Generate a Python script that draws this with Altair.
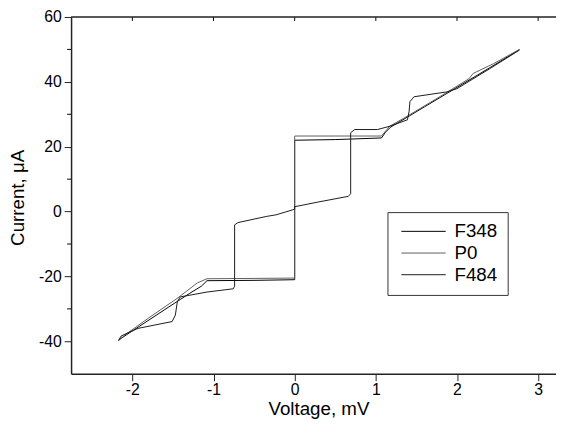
import altair as alt
import pandas as pd

series_names = ["F348", "P0", "F484"]
series_colors = ["#000000", "#5e5e5e", "#1a1a1a"]

f348_v = [-2.17, -2.0, -1.6, -1.3, -1.15, -1.08, -0.5, 0.0, 0.0, 0.0, 0.5, 1.07, 1.12, 1.18, 1.6, 2.0, 2.4, 2.77]
f348_i = [-39.6, -36.8, -30.2, -25.3, -23.0, -21.3, -21.2, -21.0, 0.0, 22.0, 22.2, 22.7, 24.5, 26.0, 32.3, 38.3, 44.3, 49.9]

p0_v = [-2.17, -2.1, -1.8, -1.45, -1.2, -1.08, -0.5, 0.0, 0.0, 0.5, 1.07, 1.17, 1.4, 1.8, 2.15, 2.2, 2.45, 2.77]
p0_i = [-39.8, -38.2, -32.8, -26.8, -22.0, -20.7, -20.6, -20.5, 23.3, 23.3, 23.3, 26.3, 29.6, 35.6, 41.0, 42.6, 45.6, 50.0]

f484_v = [-2.17, -2.14, -2.05, -1.93, -1.61, -1.51, -1.47, -1.446, -1.41, -1.08, -0.757, -0.74, -0.74, -0.70,
          -0.35, -0.23, -0.03, 0.0, 0.0, 0.3, 0.66, 0.69, 0.69, 0.74, 1.02, 1.17, 1.39, 1.41, 1.42, 1.47,
          1.875, 2.0, 2.4, 2.77]
f484_i = [-39.8, -38.4, -37.3, -36.0, -34.4, -33.9, -31.9, -27.8, -26.3, -24.8, -23.8, -23.0, -4.1, -3.4,
          -1.5, -1.0, 0.5, 0.8, 1.5, 3.0, 4.7, 5.5, 24.3, 25.3, 25.3, 26.3, 28.3, 30.9, 33.9, 35.4,
          36.9, 37.9, 44.0, 49.8]

x_ticks = [-2, -1, 0, 1, 2, 3]
y_ticks = [-40, -20, 0, 20, 40, 60]
y_minor = [-30, -10, 10, 30, 50]

rows = []
for name, vs, cs in [("F348", f348_v, f348_i), ("P0", p0_v, p0_i), ("F484", f484_v, f484_i)]:
    for k, (v, c) in enumerate(zip(vs, cs)):
        rows.append({"series": name, "V": v, "I": c, "k": k})
df = pd.DataFrame(rows)

W, H = 492, 362
xscale = alt.Scale(domain=[-2.755, 3.22], nice=False, zero=False)
yscale = alt.Scale(domain=[-50, 60], nice=False, zero=False)

label_expr = "'' + datum.value"
xaxis = alt.Axis(values=x_ticks, title="Voltage, mV", grid=False, tickSize=7, labelPadding=1,
                 labelExpr=label_expr,
                 titleX=251, titleY=35, titleBaseline="middle", titleAlign="center")
yaxis = alt.Axis(values=y_ticks, title="Current, μA", grid=False, tickSize=7, labelPadding=3,
                 labelExpr=label_expr,
                 titleX=-54, titleY=183, titleBaseline="middle", titleAlign="center", titleAngle=270)

lines = alt.Chart(df).mark_line(strokeWidth=1, clip=True).encode(
    x=alt.X("V:Q", scale=xscale, axis=xaxis),
    y=alt.Y("I:Q", scale=yscale, axis=yaxis),
    color=alt.Color("series:N", scale=alt.Scale(domain=series_names, range=series_colors),
                    sort=series_names,
                    legend=alt.Legend(orient="none", legendX=321, legendY=198, title=None,
                                      symbolType="M-1.2,0H8.8", symbolSize=81, symbolStrokeWidth=1,
                                      labelFontSize=19, labelOffset=39, padding=10, rowPadding=2,
                                      strokeColor="#333333", fillColor="white", labelColor="black")),
    order=alt.Order("k:Q"),
)

minor = alt.Chart(pd.DataFrame({"I": y_minor})).mark_rule(color="black", strokeWidth=1).encode(
    y=alt.Y("I:Q", scale=yscale, axis=yaxis), x=alt.value(-4), x2=alt.value(0)
)

top_ticks = alt.Chart(pd.DataFrame({"V": x_ticks})).mark_rule(color="black", strokeWidth=1).encode(
    x=alt.X("V:Q", scale=xscale, axis=xaxis), y=alt.value(0), y2=alt.value(4)
)

top_border = alt.Chart(pd.DataFrame({"V": [0]})).mark_rule(color="#222222", strokeWidth=1.5).encode(
    x=alt.value(0), x2=alt.value(W), y=alt.value(0)
)

chart = alt.layer(lines, minor, top_ticks, top_border).properties(
    width=W, height=H,
    autosize=alt.AutoSizeParams(type="none"),
    padding={"left": 64, "top": 6, "right": 0, "bottom": 58},
).configure(
    font="Liberation Sans",
).configure_view(stroke=None).configure_axis(
    labelFontSize=16, titleFontSize=19, titleFontWeight="normal", labelColor="black", titleColor="black",
    domainColor="#222222", tickColor="#222222", domainWidth=1.5, tickWidth=1,
    labelFont="Liberation Sans", titleFont="Liberation Sans",
).configure_legend(labelFont="Liberation Sans")

chart.save("out.html", embed_options={"renderer": "svg", "actions": False})
